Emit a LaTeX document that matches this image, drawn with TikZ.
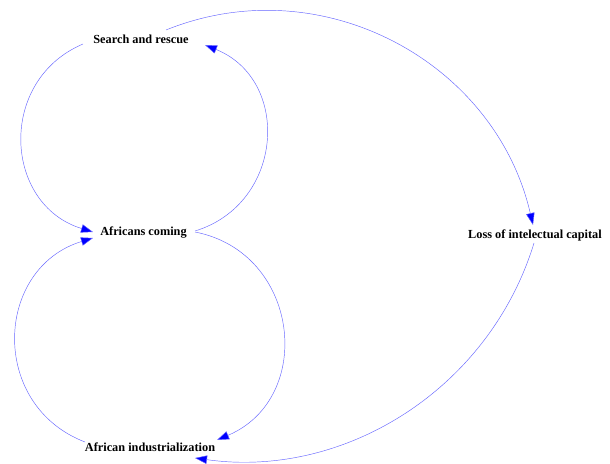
\documentclass[tikz,border=0pt]{standalone}
\usepackage{fontspec}
\setmainfont{Liberation Serif}
\usepackage{tikz}
\usetikzlibrary{arrows.meta}

\begin{document}
\begin{tikzpicture}[x=1pt,y=1pt]
\useasboundingbox (0,0) rectangle (610,463);
\tikzset{var/.style = {inner sep=0pt,font=\fontsize{12.3}{14}\selectfont\bfseries}}
\tikzset{edge/.style = {draw=blue!60,line width=.45pt,-{Triangle[length=12pt,width=8.5pt,fill=blue]}}}
%variables
\node[var] (search) at (141,424) {Search and rescue};
\node[var] (coming) at (143.5,230) {Africans coming};
\node[var] (loss) at (535,228) {Loss of intelectual capital};
\node[var] (indus) at (150,16) {African industrialization};
%upper loop
\draw[edge] ([shift={(-58,-5)}]search.center) to[out=203,in=163,looseness=1.27] ([shift={(-50.5,1)}]coming.center);
\draw[edge] ([shift={(51.5,2)}]coming.center) to[out=17,in=-22,looseness=1.28] ([shift={(64,-6)}]search.center);
%lower loop
\draw[edge] ([shift={(51.5,1)}]coming.center) to[out=-11,in=23,looseness=1.31] ([shift={(67,7)}]indus.center);
\draw[edge] ([shift={(-65,5)}]indus.center) to[out=159,in=197,looseness=1.29] ([shift={(-50.5,-5)}]coming.center);
%outer loop
\draw[edge] ([shift={(25,9)}]search.center) to[out=22,in=103,looseness=1.03] ([shift={(-2,10)}]loss.center);
\draw[edge] ([shift={(-1,-8)}]loss.center) to[out=-107,in=-8,looseness=.97] ([shift={(45,-11)}]indus.center);
\end{tikzpicture}
\end{document}
